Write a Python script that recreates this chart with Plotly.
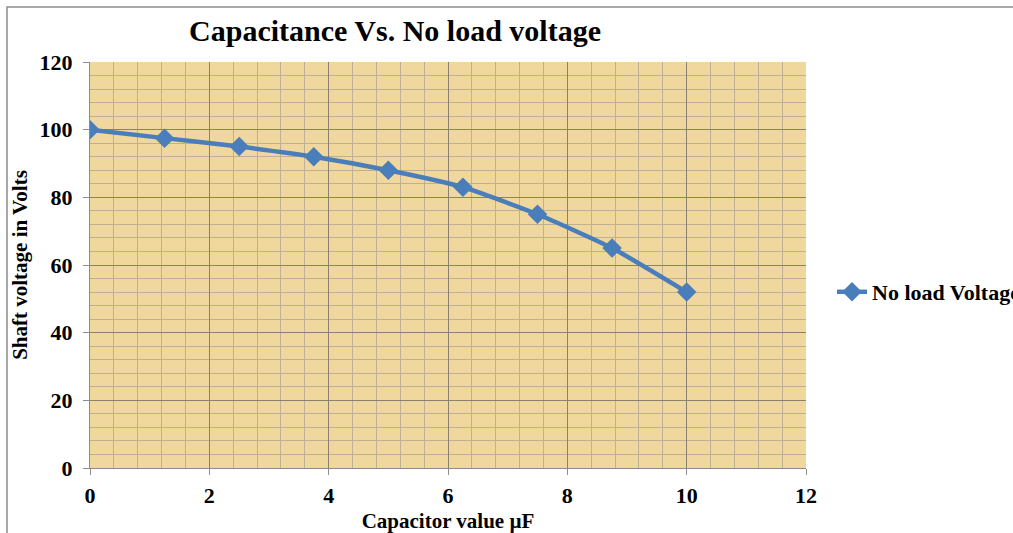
import plotly.graph_objects as go

capacitance = [0, 1.25, 2.5, 3.75, 5, 6.25, 7.5, 8.75, 10]
no_load_voltage = [100, 97.5, 95, 92, 88, 83, 75, 65, 52]
series_name = "No load Voltage"

FONT = "Liberation Serif, Times New Roman, serif"
BLUE = "#4A7EBB"

fig = go.Figure()
fig.add_trace(go.Scatter(
    x=capacitance, y=no_load_voltage, name=series_name,
    mode="lines+markers",
    line=dict(color=BLUE, width=4.5, shape="spline", smoothing=0.5),
    marker=dict(symbol="diamond", size=15, color=BLUE),
))

axis_common = dict(
    showline=True, linecolor="#8c8c8c", linewidth=1,
    ticks="outside", ticklen=6, tickcolor="#8c8c8c",
    tickfont=dict(family=FONT, size=22, color="black", weight="bold"),
    gridcolor="#8a8270", gridwidth=1, zeroline=False, automargin=False,
)

fig.update_layout(
    width=1013, height=533,
    margin=dict(l=90, r=207, t=62, b=65, autoexpand=False),
    paper_bgcolor="white",
    plot_bgcolor="#EFD79E",
    title=dict(text="<b>Capacitance Vs. No load voltage</b>",
               font=dict(family=FONT, size=30, color="black"),
               x=(395 - 90) / 716, xref="paper", xanchor="center",
               y=1 - 30 / 533, yanchor="middle"),
    xaxis=dict(range=[0, 12], dtick=2, tick0=0,
               minor=dict(dtick=0.4, showgrid=True, gridcolor="#bdb096", gridwidth=1, ticks=""),
               ticklabelstandoff=2,
               title=dict(text="<b>Capacitor value µF</b>",
                          font=dict(family=FONT, size=21, color="black"), standoff=10),
               **axis_common),
    yaxis=dict(range=[0, 120], dtick=20, tick0=0,
               minor=dict(dtick=4, showgrid=True, gridcolor="#bdb096", gridwidth=1, ticks=""),
               ticklabelstandoff=6,
               title=dict(text="<b>Shaft voltage in Volts</b>",
                          font=dict(family=FONT, size=21, color="black"), standoff=6),
               **axis_common),
    legend=dict(x=(832 - 90) / 716, y=(468 - 292) / 406, xanchor="left", yanchor="middle",
                font=dict(family=FONT, size=22, color="black", weight="bold"),
                bgcolor="rgba(0,0,0,0)"),
    showlegend=True,
)

# outer chart border
fig.add_shape(type="rect", xref="paper", yref="paper",
              x0=(7 - 90) / 716, x1=(1100 - 90) / 716,
              y0=(468 - 600) / 406, y1=(468 - 7) / 406,
              line=dict(color="#8c8c8c", width=1.5), fillcolor="rgba(0,0,0,0)", layer="below")

fig.write_html("out.html")
